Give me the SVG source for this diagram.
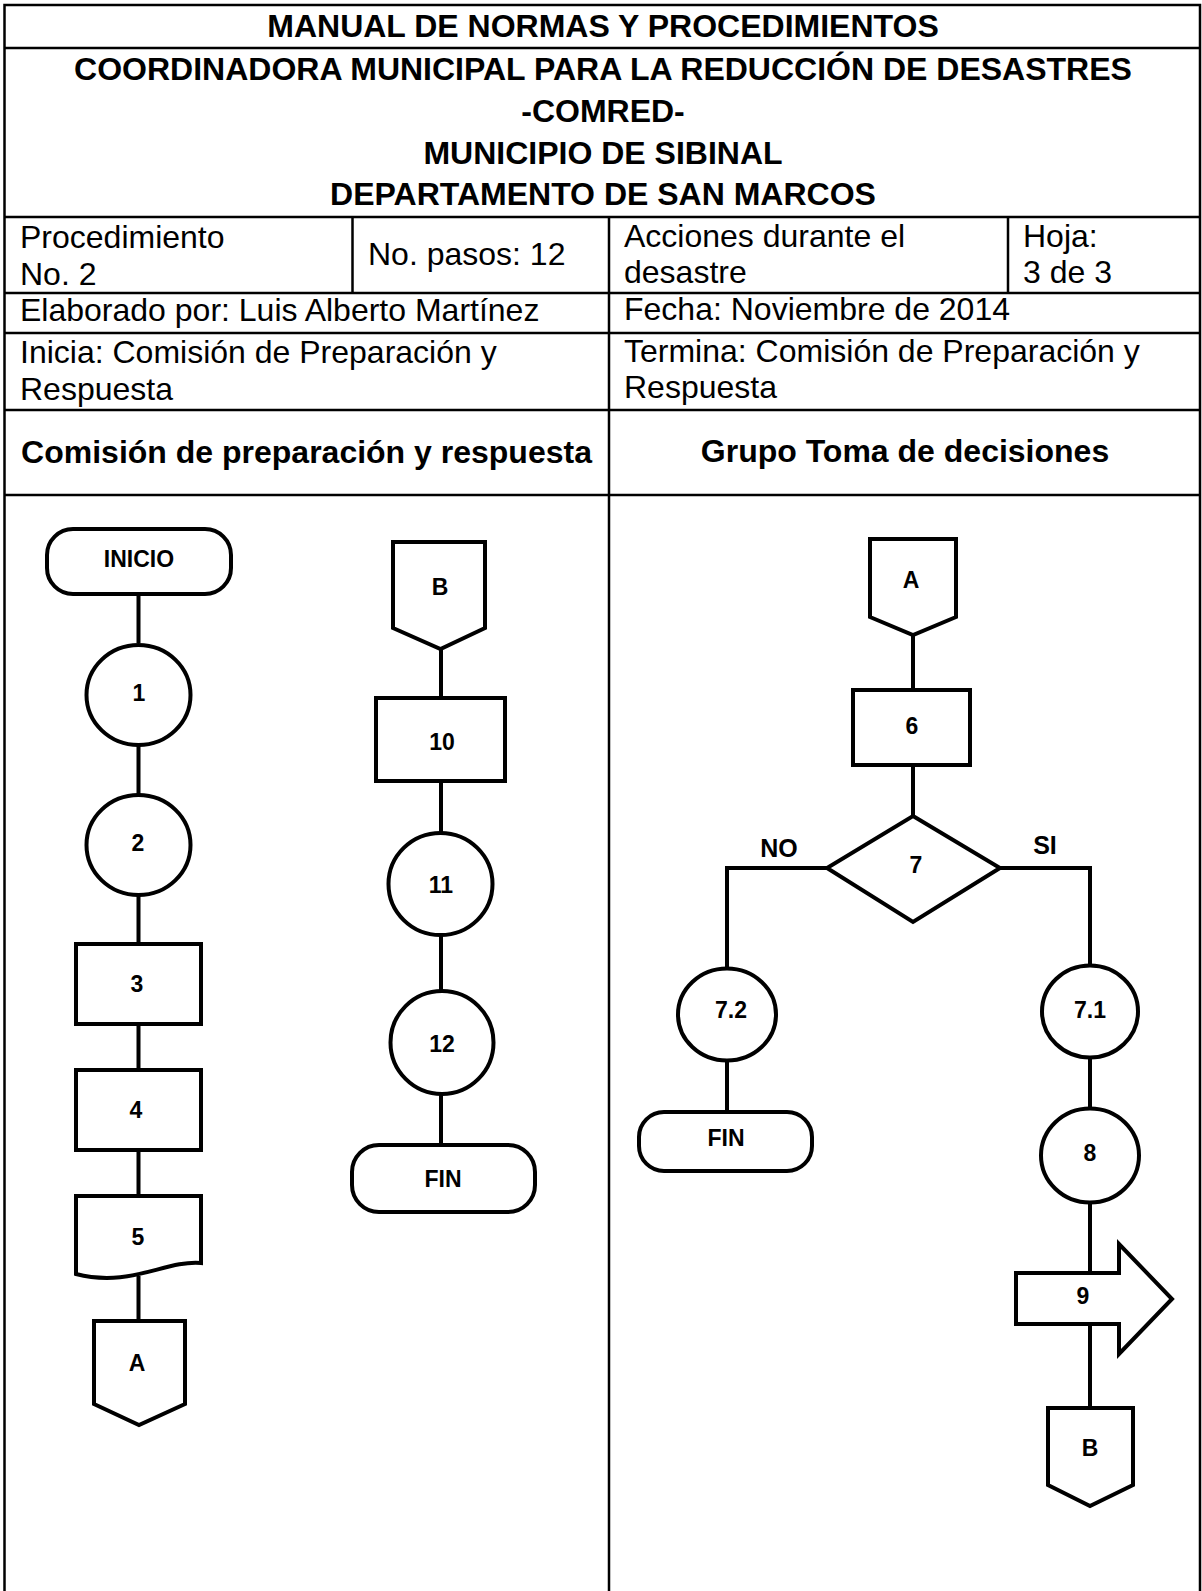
<svg xmlns="http://www.w3.org/2000/svg" width="1202" height="1591" viewBox="0 0 1202 1591">
<style>
.tbl{stroke:#000;stroke-width:2.5;fill:none}
.sh{stroke:#000;stroke-width:4;fill:#fff}
.cn{stroke:#000;stroke-width:4;fill:none}
.t{font-family:"Liberation Sans",Arial,sans-serif;font-size:32px;fill:#000}
.tb{font-family:"Liberation Sans",Arial,sans-serif;font-size:32px;font-weight:bold;fill:#000;text-anchor:middle}
.n{font-family:"Liberation Sans",Arial,sans-serif;font-size:23px;font-weight:bold;fill:#000;text-anchor:middle}
.lb{font-family:"Liberation Sans",Arial,sans-serif;font-size:25px;font-weight:bold;fill:#000;text-anchor:middle}
</style>
<rect x="0" y="0" width="1202" height="1591" fill="#fff"/>
<g id="table">
<path class="tbl" d="M4.5,1591 V5 H1200 V1591"/>
<path class="tbl" d="M4.5,48 H1200 M4.5,217 H1200 M4.5,293 H1200 M4.5,333 H1200 M4.5,410 H1200 M4.5,495 H1200"/>
<path class="tbl" d="M352.5,217 V293 M1008,217 V293 M609,217 V1591"/>
</g>
<g id="header">
<text class="tb" x="603" y="37">MANUAL DE NORMAS Y PROCEDIMIENTOS</text>
<text class="tb" x="603" y="80">COORDINADORA MUNICIPAL PARA LA REDUCCIÓN DE DESASTRES</text>
<text class="tb" x="603" y="122">-COMRED-</text>
<text class="tb" x="603" y="164">MUNICIPIO DE SIBINAL</text>
<text class="tb" x="603" y="205">DEPARTAMENTO DE SAN MARCOS</text>
<text class="t" x="20" y="248">Procedimiento</text>
<text class="t" x="20" y="285">No. 2</text>
<text class="t" x="368" y="265">No. pasos: 12</text>
<text class="t" x="624" y="247">Acciones durante el</text>
<text class="t" x="624" y="283">desastre</text>
<text class="t" x="1023" y="247">Hoja:</text>
<text class="t" x="1023" y="283">3 de 3</text>
<text class="t" x="20" y="321">Elaborado por: Luis Alberto Martínez</text>
<text class="t" x="624" y="320">Fecha: Noviembre de 2014</text>
<text class="t" x="20" y="363">Inicia: Comisión de Preparación y</text>
<text class="t" x="20" y="400">Respuesta</text>
<text class="t" x="624" y="362">Termina: Comisión de Preparación y</text>
<text class="t" x="624" y="398">Respuesta</text>
<text class="tb" x="306.5" y="463">Comisión de preparación y respuesta</text>
<text class="tb" x="905" y="462">Grupo Toma de decisiones</text>
</g>
<g id="connectors">
<path class="cn" d="M138.5,596 V643 M138.5,745 V795 M138.5,895 V944 M138.5,1024 V1070 M138.5,1150 V1196 M138.5,1276 V1321"/>
<path class="cn" d="M441,649 V698 M441,781 V833 M441,935 V991 M441,1094 V1145"/>
<path class="cn" d="M913,635 V690 M913,765 V816"/>
<path class="cn" d="M827,868 H727 V969"/>
<path class="cn" d="M1000,868 H1090 V966"/>
<path class="cn" d="M727,1060 V1112"/>
<path class="cn" d="M1090,1057 V1109 M1090,1202 V1273 M1090,1324 V1408"/>
</g>
<g id="inicio"><rect class="sh" x="47" y="529" width="184" height="65" rx="26"/><text class="n" x="139" y="567">INICIO</text></g>
<g id="n1"><ellipse class="sh" cx="138.5" cy="695" rx="52" ry="50"/><text class="n" x="139" y="701">1</text></g>
<g id="n2"><ellipse class="sh" cx="138.5" cy="845" rx="52" ry="50"/><text class="n" x="138" y="851">2</text></g>
<g id="n3"><rect class="sh" x="76" y="944" width="125" height="80"/><text class="n" x="137" y="992">3</text></g>
<g id="n4"><rect class="sh" x="76" y="1070" width="125" height="80"/><text class="n" x="136" y="1118">4</text></g>
<g id="n5"><path class="sh" d="M76,1196 H201 V1263 C165,1260 130,1288 76,1274 Z"/><text class="n" x="138" y="1245">5</text></g>
<g id="conA1"><polygon class="sh" points="94,1321 185,1321 185,1404 139,1425 94,1404"/><text class="n" x="137" y="1371">A</text></g>
<g id="conB1"><polygon class="sh" points="393,542 485,542 485,628 440.5,649 393,628"/><text class="n" x="440" y="595">B</text></g>
<g id="n10"><rect class="sh" x="376" y="698" width="129" height="83"/><text class="n" x="442" y="750">10</text></g>
<g id="n11"><ellipse class="sh" cx="440.5" cy="884" rx="52" ry="51"/><text class="n" x="441" y="893">11</text></g>
<g id="n12"><ellipse class="sh" cx="442" cy="1042.5" rx="51.5" ry="51.5"/><text class="n" x="442" y="1052">12</text></g>
<g id="fin1"><rect class="sh" x="352" y="1145" width="183" height="67" rx="27"/><text class="n" x="443" y="1187">FIN</text></g>
<g id="conA2"><polygon class="sh" points="870,539 956,539 956,617 913,635 870,617"/><text class="n" x="911" y="588">A</text></g>
<g id="n6"><rect class="sh" x="853" y="690" width="117" height="75"/><text class="n" x="912" y="734">6</text></g>
<g id="n7"><polygon class="sh" points="913,816 1000,868 913,922 827,868"/><text class="n" x="916" y="873">7</text></g>
<text class="lb" x="779" y="857">NO</text>
<text class="lb" x="1045" y="854">SI</text>
<g id="n72"><ellipse class="sh" cx="727" cy="1014.5" rx="49" ry="46"/><text class="n" x="731" y="1018">7.2</text></g>
<g id="fin2"><rect class="sh" x="639" y="1112" width="173" height="59" rx="25"/><text class="n" x="726" y="1146">FIN</text></g>
<g id="n71"><ellipse class="sh" cx="1090" cy="1011.5" rx="48" ry="46"/><text class="n" x="1090" y="1018">7.1</text></g>
<g id="n8"><ellipse class="sh" cx="1090" cy="1155.5" rx="49" ry="47"/><text class="n" x="1090" y="1161">8</text></g>
<g id="n9"><path class="sh" d="M1016,1273 H1119 V1244 L1172,1299 L1119,1354 V1324 H1016 Z"/><text class="n" x="1083" y="1304">9</text></g>
<g id="conB2"><polygon class="sh" points="1048,1408 1133,1408 1133,1485 1090,1506 1048,1485"/><text class="n" x="1090" y="1456">B</text></g>
</svg>
